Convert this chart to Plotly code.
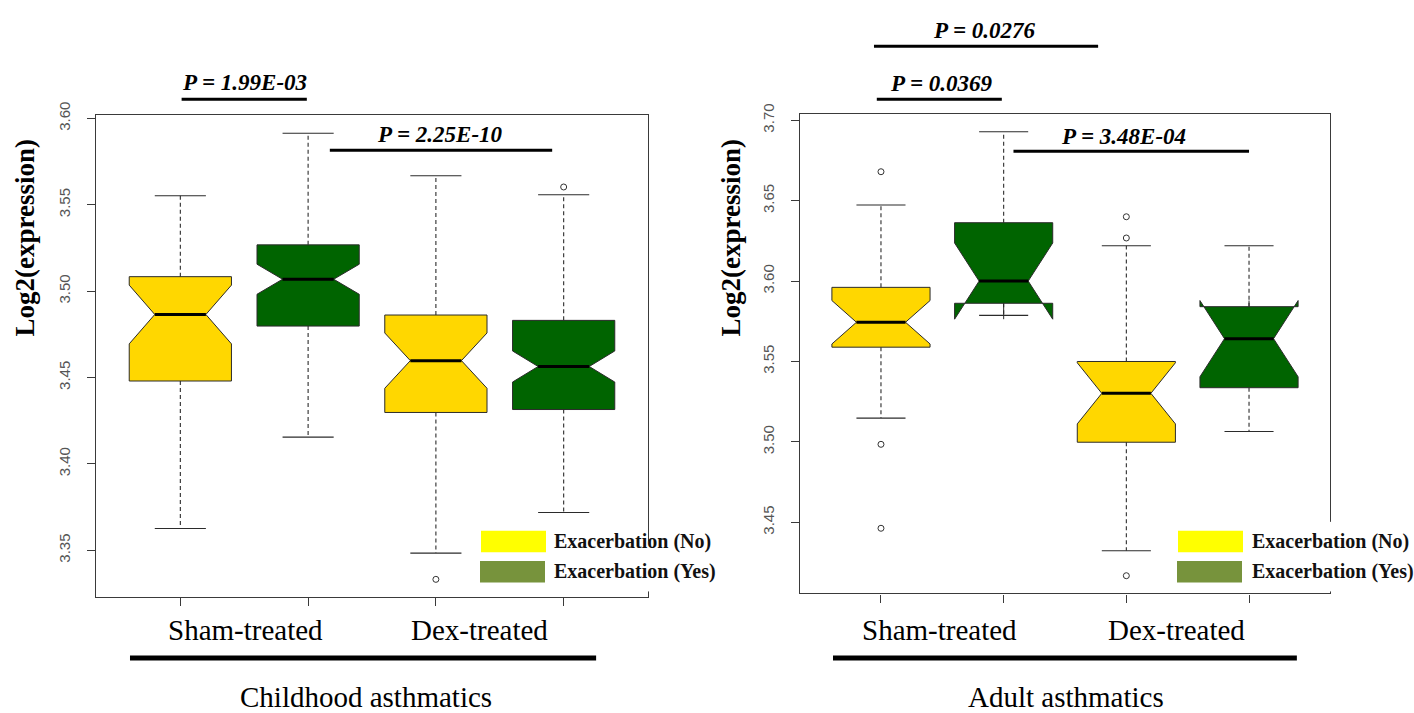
import plotly.graph_objects as go

W, H = 1414, 713

# ---- data -------------------------------------------------------------
positions = [1, 2, 3, 4]
box_colors = ["#FFD700", "#006400", "#FFD700", "#006400"]
group_labels = ["Sham-treated", "Dex-treated"]
legend_labels = ["Exacerbation (No)", "Exacerbation (Yes)"]
legend_colors = ["#FFFF00", "#77933C"]
y_ticks_child = [3.35, 3.40, 3.45, 3.50, 3.55, 3.60]
y_ticks_adult = [3.45, 3.50, 3.55, 3.60, 3.65, 3.70]

# Childhood asthmatics: Sham/No, Sham/Yes, Dex/No, Dex/Yes
child_lower = [3.3626, 3.4155, 3.3484, 3.3719]
child_q1 = [3.4480, 3.4798, 3.4298, 3.4315]
child_median = [3.4865, 3.5069, 3.4598, 3.4564]
child_q3 = [3.5084, 3.5268, 3.4862, 3.4831]
child_upper = [3.5552, 3.5914, 3.5668, 3.5558]
child_notch = [0.0170, 0.0087, 0.0160, 0.0090]
child_outliers = [[], [], [3.3332], [3.5603]]

# Adult asthmatics
adult_lower = [3.5148, 3.5787, 3.4323, 3.5065]
adult_q1 = [3.5589, 3.5862, 3.4998, 3.5337]
adult_median = [3.5744, 3.6000, 3.5302, 3.5642]
adult_q3 = [3.5961, 3.6363, 3.5500, 3.5841]
adult_upper = [3.6473, 3.6929, 3.6220, 3.6220]
adult_notch = [0.0135, 0.0237, 0.0190, 0.0237]
adult_outliers = [[3.6680, 3.4985, 3.4463], [], [3.6400, 3.6268, 3.4168], []]

# pairwise tests: (label, x0, x1, text x) per panel
child_tests = [("P = 1.99E-03", 1.01, 1.99, 1.506), ("P = 2.25E-10", 2.17, 3.91, 3.03)]
adult_tests = [("P = 0.0276", 0.943, 2.77, 1.84), ("P = 0.0369", 0.966, 1.985, 1.497),
               ("P = 3.48E-04", 2.08, 4.00, 2.98)]

SERIF = "Liberation Serif"
SANS = "Liberation Sans, Arial"
FRAME = "#3a3a3a"


def py(px):
    """pixel row -> paper y"""
    return 1 - px / H


def px_x(px):
    return px / W


fig = go.Figure()
shapes = []
annotations = []


def add_panel(xa, ya, lower, q1, med, q3, upper, notch, outliers):
    for i, p in enumerate(positions):
        fig.add_trace(go.Box(
            x=[p], q1=[q1[i]], median=[med[i]], q3=[q3[i]],
            lowerfence=[q1[i]], upperfence=[q3[i]], notchspan=[notch[i]],
            notched=True, notchwidth=0.25, width=0.8, whiskerwidth=0,
            fillcolor=box_colors[i], line=dict(color="#2b2b2b", width=1),
            boxpoints=False, xaxis=xa, yaxis=ya, showlegend=False, hoverinfo="skip"))
        # dashed whisker stems
        fig.add_trace(go.Scatter(
            x=[p, p, None, p, p], y=[q3[i], upper[i], None, q1[i], lower[i]],
            mode="lines", line=dict(color="#2b2b2b", width=1.1, dash="4px,3px"),
            xaxis=xa, yaxis=ya, showlegend=False, hoverinfo="skip"))
        # whisker caps
        fig.add_trace(go.Scatter(
            x=[p - 0.2, p + 0.2, None, p - 0.2, p + 0.2],
            y=[upper[i], upper[i], None, lower[i], lower[i]],
            mode="lines", line=dict(color="#2b2b2b", width=1.1),
            xaxis=xa, yaxis=ya, showlegend=False, hoverinfo="skip"))
        # median bar
        fig.add_trace(go.Scatter(
            x=[p - 0.2, p + 0.2], y=[med[i], med[i]],
            mode="lines", line=dict(color="#000000", width=3),
            xaxis=xa, yaxis=ya, showlegend=False, hoverinfo="skip"))
        if outliers[i]:
            fig.add_trace(go.Scatter(
                x=[p] * len(outliers[i]), y=outliers[i], mode="markers",
                marker=dict(symbol="circle-open", size=6, color="#333333",
                            line=dict(width=1)),
                xaxis=xa, yaxis=ya, showlegend=False, hoverinfo="skip"))


add_panel("x", "y", child_lower, child_q1, child_median, child_q3, child_upper,
          child_notch, child_outliers)
add_panel("x2", "y2", adult_lower, adult_q1, adult_median, adult_q3, adult_upper,
          adult_notch, adult_outliers)

PFONT = dict(family=SERIF, size=23, color="#000")


def add_tests(tests, xref, rows):
    for (label, x0, x1, xt), (ty, ly) in zip(tests, rows):
        shapes.append(dict(type="line", xref=xref, yref="paper", x0=x0, x1=x1,
                           y0=py(ly), y1=py(ly), line=dict(color="#000", width=3)))
        annotations.append(dict(text="<b><i>%s</i></b>" % label, xref=xref, yref="paper",
                                x=xt, y=py(ty), showarrow=False, font=PFONT,
                                xanchor="center", yanchor="middle"))


add_tests(child_tests, "x", [(70, 87), (123, 139)])
add_tests(adult_tests, "x2", [(17, 33), (71, 87), (125, 140)])

CAT_FONT = dict(family=SERIF, size=29, color="#000")
# treatment labels and population labels under each panel
for xref, xs, line_x, title, tx in [
        ("x", [1.51, 3.345], (0.606, 4.254), "Childhood asthmatics", 2.453),
        ("x2", [1.481, 3.412], (0.609, 4.39), "Adult asthmatics", 2.508)]:
    for lab, xv in zip(group_labels, xs):
        annotations.append(dict(text=lab, xref=xref, yref="paper", x=xv, y=py(628),
                                showarrow=False, font=CAT_FONT,
                                xanchor="center", yanchor="middle"))
    shapes.append(dict(type="line", xref=xref, yref="paper", x0=line_x[0], x1=line_x[1],
                       y0=py(657), y1=py(657), line=dict(color="#000", width=5)))
    annotations.append(dict(text=title, xref=xref, yref="paper", x=tx, y=py(697),
                            showarrow=False, font=CAT_FONT,
                            xanchor="center", yanchor="middle"))

# y-axis titles
for xp, yp in [(25, 228), (731, 228)]:
    annotations.append(dict(text="<b>Log2(expression)</b>", xref="paper", yref="paper",
                            x=px_x(xp), y=py(yp), textangle=-90, showarrow=False,
                            font=dict(family=SERIF, size=27, color="#000"),
                            xanchor="center", yanchor="middle"))

# legends (white backing hides the frame behind them)
for frame_x, key_x, text_x, top in [(648, 480, 552, 538), (1330, 1177, 1250, 518)]:
    shapes.append(dict(type="rect", xref="paper", yref="paper",
                       x0=px_x(frame_x - 6), x1=px_x(frame_x + 6), y0=py(589), y1=py(top),
                       fillcolor="#fff", line=dict(width=0), layer="above"))
    for k, (lab, col) in enumerate(zip(legend_labels, legend_colors)):
        top_px = 527 + 31 * k
        shapes.append(dict(type="rect", xref="paper", yref="paper",
                           x0=px_x(key_x + (1 - k)), x1=px_x(key_x + 65 + (1 - k)),
                           y0=py(top_px + 22), y1=py(top_px),
                           fillcolor=col, line=dict(width=0), layer="above"))
        annotations.append(dict(text="<b>%s</b>" % lab, xref="paper", yref="paper",
                                x=px_x(text_x), y=py(top_px + 11), showarrow=False,
                                font=dict(family=SERIF, size=20, color="#111"),
                                xanchor="left", yanchor="middle"))

axis_common = dict(showline=True, mirror=True, linecolor=FRAME, linewidth=1.3,
                   showgrid=False, zeroline=False, ticks="outside", ticklen=8,
                   tickcolor=FRAME, tickwidth=1)

fig.update_layout(
    width=W, height=H, margin=dict(l=0, r=0, t=0, b=0),
    paper_bgcolor="#fff", plot_bgcolor="#fff", showlegend=False,
    boxmode="overlay",
    xaxis=dict(domain=[96 / W, 648 / W], range=[0.34, 4.66], tickvals=positions,
               showticklabels=False, anchor="y", **axis_common),
    yaxis=dict(domain=[py(595), py(103.5)], range=[3.3228, 3.6017],
               tickvals=y_ticks_child, ticktext=["%.2f" % v for v in y_ticks_child],
               tickangle=-90, tickfont=dict(family=SANS, size=15, color="#555"),
               ticklabelstandoff=11, anchor="x", **axis_common),
    xaxis2=dict(domain=[800 / W, 1330 / W], range=[0.34, 4.66], tickvals=positions,
                showticklabels=False, anchor="y2", **axis_common),
    yaxis2=dict(domain=[py(591), py(102)], range=[3.4058, 3.7039],
                tickvals=y_ticks_adult, ticktext=["%.2f" % v for v in y_ticks_adult],
                tickangle=-90, tickfont=dict(family=SANS, size=15, color="#555"),
                ticklabelstandoff=11, anchor="x2", **axis_common),
    shapes=shapes, annotations=annotations,
)

fig.write_html("out.html")
